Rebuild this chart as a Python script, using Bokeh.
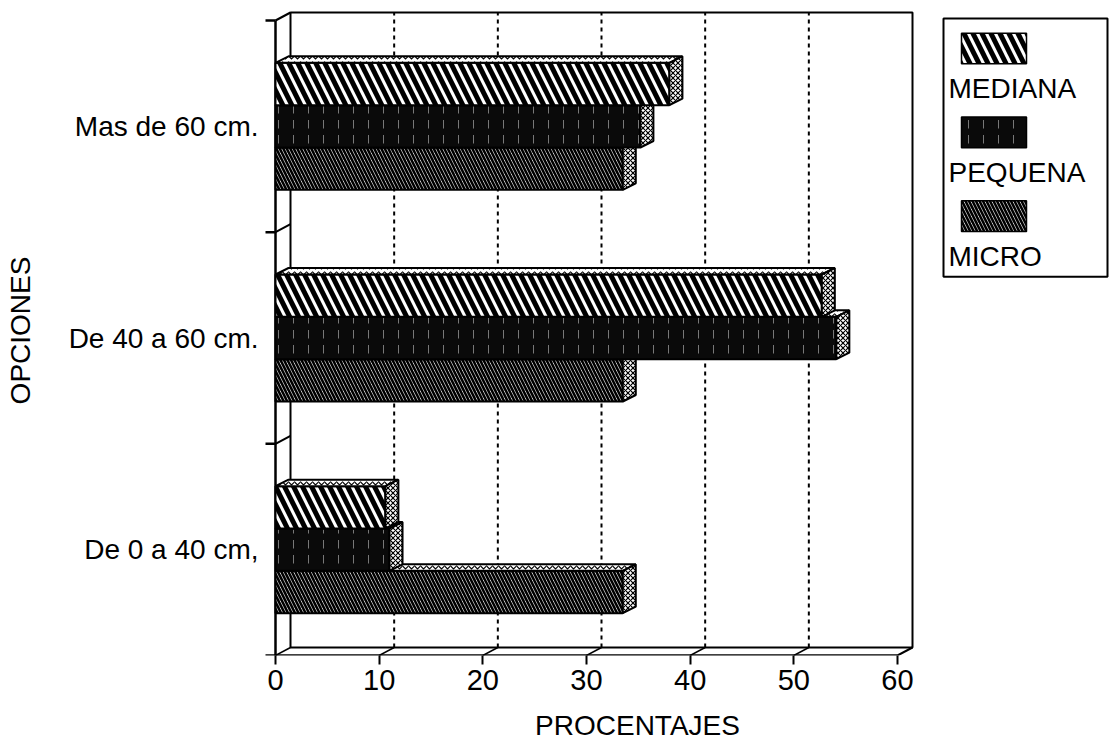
from bokeh.plotting import figure
from bokeh.models import Range1d, FixedTicker
from bokeh.layouts import row, column
from bokeh.embed import file_html
from bokeh.resources import INLINE
from bokeh.core.properties import value

# ---------------- data ----------------
categories = ["De 0 a 40 cm,", "De 40 a 60 cm.", "Mas de 60 cm."]
series = ["MEDIANA", "PEQUENA", "MICRO"]
mediana = [10.6, 52.7, 38.0]
pequena = [11.0, 54.1, 35.2]
micro = [33.5, 33.5, 33.5]
x_ticks = [0, 10, 20, 30, 40, 50, 60]
x_title = "PROCENTAJES"
y_title = "OPCIONES"

values = {"MEDIANA": mediana, "PEQUENA": pequena, "MICRO": micro}

# ---------------- layout / style ----------------
FONT = "Liberation Sans"
W_TOTAL, H_TOTAL = 1111, 742
W_MAIN, H_MAIN = 915, 702
BL, BT, BB = 260, 5, 47
FW, FH = W_MAIN - BL, H_MAIN - BT - BB
PX_X = 622 / 60.0          # pixels per percent
PX_Y = 635 / 3.0           # pixels per category
X0 = -15 / PX_X
Y_END = FH / PX_Y
DX, DY = 15 / PX_X, 8 / PX_Y          # wall depth
BDX, BDY = 13 / PX_X, 6.5 / PX_Y      # bar depth
BH = 0.2
XMAX = x_ticks[-1]
NC = len(categories)
STUB = 10 / PX_X

offsets = {"MEDIANA": BH, "PEQUENA": 0.0, "MICRO": -BH}
styles = {
    "MEDIANA": dict(fill_color="white", hatch_pattern="left_diagonal_line",
                    hatch_color="black", hatch_scale=18, hatch_weight=5),
    "PEQUENA": dict(fill_color="#0a0a0a", hatch_pattern="vertical_dash",
                    hatch_color="white", hatch_scale=15, hatch_weight=1.0, hatch_alpha=0.45),
    "MICRO": dict(fill_color="white", hatch_pattern="left_diagonal_line",
                  hatch_color="black", hatch_scale=7, hatch_weight=2.6),
}

p = figure(width=W_MAIN, height=H_MAIN, x_range=Range1d(X0, X0 + FW / PX_X),
           y_range=Range1d(0, Y_END), min_border_left=BL, min_border_top=BT,
           min_border_bottom=BB, min_border_right=0,
           output_backend="svg", toolbar_location=None)
p.outline_line_color = None
p.xgrid.visible = False
p.ygrid.visible = False
p.background_fill_color = "white"

# x axis
xa = p.xaxis[0]
xa.ticker = FixedTicker(ticks=x_ticks)
xa.axis_line_color = None
xa.major_tick_out = 9
xa.major_tick_in = 0
xa.major_tick_line_width = 2
xa.minor_tick_line_color = None
xa.major_label_text_font = FONT
xa.major_label_text_font_size = "29px"
xa.major_label_text_color = "black"
xa.major_label_standoff = 5

# y axis
ya = p.yaxis[0]
centers = [i + 0.5 for i in range(NC)]
ya.ticker = FixedTicker(ticks=centers)
ya.major_label_overrides = {c: lab for c, lab in zip(centers, categories)}
ya.axis_line_color = None
ya.major_tick_out = 0
ya.major_tick_in = 0
ya.minor_tick_line_color = None
ya.major_label_text_font = FONT
ya.major_label_text_font_size = "28px"
ya.major_label_text_color = "black"
ya.major_label_standoff = 2
ya.axis_label = y_title
ya.axis_label_text_font = FONT
ya.axis_label_text_font_size = "28px"
ya.axis_label_text_font_style = "normal"
ya.axis_label_text_color = "black"
ya.axis_label_standoff = 30

# back wall dashed gridlines
gx = [v + DX for v in x_ticks[1:-1]]
p.segment(x0=gx, y0=[DY] * len(gx), x1=gx, y1=[NC + DY] * len(gx),
          line_color="black", line_width=2, line_dash="4 4")
# floor diagonals at ticks
p.segment(x0=x_ticks[:-1], y0=[0] * (len(x_ticks) - 1),
          x1=[v + DX for v in x_ticks[:-1]], y1=[DY] * (len(x_ticks) - 1),
          line_color="black", line_width=1.5)

# back wall outline
p.quad(left=[DX], right=[XMAX + DX], bottom=[DY], top=[NC + DY],
       fill_color=None, line_color="black", line_width=2)
# front left edge and front floor edge
p.line([0, 0], [0, NC], line_color="black", line_width=2.5)
p.line([-STUB, XMAX], [0, 0], line_color="black", line_width=2.5)
p.line([XMAX, XMAX + DX], [0, DY], line_color="black", line_width=2)
# category boundary stubs on the left wall
bounds = list(range(1, NC + 1))
p.segment(x0=[-STUB] * len(bounds), y0=bounds, x1=[0] * len(bounds), y1=bounds,
          line_color="black", line_width=2.5)
p.segment(x0=[0] * len(bounds), y0=bounds, x1=[DX] * len(bounds),
          y1=[b + DY for b in bounds], line_color="black", line_width=2)

# bars (drawn bottom bar first)
for s in reversed(series):
    vals = values[s]
    yc = [c + offsets[s] for c in centers]
    bottoms = [y - BH / 2 for y in yc]
    tops = [y + BH / 2 for y in yc]
    p.hbar(y=yc, left=0, right=vals, height=BH, line_color="black",
           line_width=2, **styles[s])
    top_xs = [[0, v, v + BDX, BDX] for v in vals]
    top_ys = [[t, t, t + BDY, t + BDY] for t in tops]
    p.patches(top_xs, top_ys, fill_color="white", hatch_pattern="horizontal_wave",
              hatch_color="black", hatch_scale=6, hatch_weight=1.2,
              line_color="black", line_width=2)
    side_xs = [[v, v + BDX, v + BDX, v] for v in vals]
    side_ys = [[b, b + BDY, t + BDY, t] for b, t in zip(bottoms, tops)]
    p.patches(side_xs, side_ys, fill_color="white", hatch_pattern="diagonal_cross",
              hatch_color="black", hatch_scale=5, hatch_weight=1.2,
              line_color="black", line_width=2)

# ---------------- legend panel ----------------
LW = W_TOTAL - W_MAIN
lg = figure(width=LW, height=H_MAIN, x_range=Range1d(W_MAIN, W_TOTAL),
            y_range=Range1d(H_MAIN, 0),
            x_axis_location=None, y_axis_location=None, toolbar_location=None,
            output_backend="svg", min_border=0)
lg.outline_line_color = None
lg.xgrid.visible = False
lg.ygrid.visible = False

LEG_L, LEG_R, LEG_T, LEG_B = 943, 1107, 14, 293
SW_L, SW_R, SW_T, SW_H, STEP = 961, 1026, 30, 33, 90.5
TXT_X, TXT_Y0 = 948, 90

lg.quad(left=[LEG_L], right=[LEG_R], top=[LEG_T], bottom=[LEG_B],
        fill_color="white", line_color="black", line_width=2)
for k, s in enumerate(series):
    top = SW_T + k * STEP
    lg.quad(left=[SW_L], right=[SW_R], top=[top], bottom=[top + SW_H],
            line_color="black", line_width=1.5, **styles[s])
lg.text(x=[TXT_X] * len(series), y=[TXT_Y0 + k * STEP for k in range(len(series))],
        text=series, text_font=value(FONT), text_font_size="28px",
        text_baseline="middle", text_align="left", text_color="black")

# ---------------- x axis title strip ----------------
TH = H_TOTAL - H_MAIN
tf = figure(width=W_TOTAL, height=TH, x_range=Range1d(0, W_TOTAL),
            y_range=Range1d(TH, 0), x_axis_location=None, y_axis_location=None,
            toolbar_location=None, output_backend="svg", min_border=0)
tf.outline_line_color = None
tf.xgrid.visible = False
tf.ygrid.visible = False
TITLE_X, TITLE_Y = 637, 725 - H_MAIN
tf.text(x=[TITLE_X], y=[TITLE_Y], text=[x_title], text_font=value(FONT),
        text_font_size="28px", text_align="center", text_baseline="middle",
        text_color="black")

layout = column(row(p, lg), tf)
open("out.html", "w").write(file_html(layout, INLINE))
